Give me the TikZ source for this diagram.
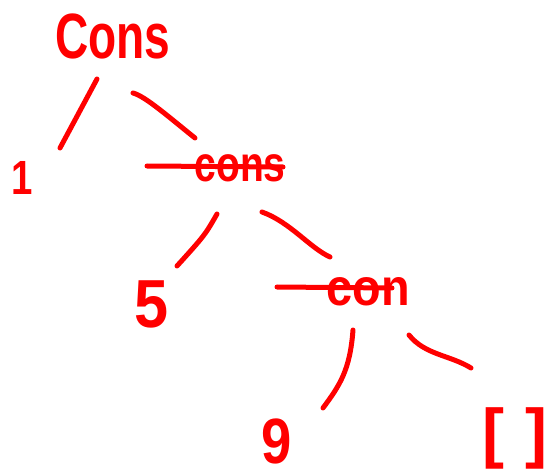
\documentclass[tikz,border=0pt]{standalone}
\usepackage{fontspec}
\setmainfont{Liberation Sans}
\definecolor{ink}{RGB}{255,0,0}
\begin{document}
\begin{tikzpicture}[x=1pt,y=-1pt,
  pen/.style={draw=ink,line width=5pt,line cap=round,line join=round},
  word/.style={text=ink,inner sep=0pt,outer sep=0pt,font=\bfseries}]
\useasboundingbox (0,0) rectangle (555,476);
% nodes
\node[word,xscale=0.72] (cons1) at (113,36) {\fontsize{64}{64}\selectfont Cons};
\node[word,xscale=0.8] (one) at (22,178) {\fontsize{48}{48}\selectfont 1};
\node[word,xscale=0.78] (cons2) at (240,168) {\fontsize{50}{50}\selectfont cons};
\node[word,xscale=0.9] (five) at (152,304) {\fontsize{68}{68}\selectfont 5};
\node[word,xscale=0.9] (cons3) at (368,292) {\fontsize{52}{52}\selectfont con};
\node[word,xscale=0.85] (nine) at (277,441) {\fontsize{64}{64}\selectfont 9};
\node[word] (nil) at (515,438) {\fontsize{66}{66}\selectfont [\kern22pt]};
% strike lines
\coordinate (s1a) at (147,166); \coordinate (s1b) at (283,167);
\coordinate (s2a) at (277,287); \coordinate (s2b) at (392,288);
\draw[pen] (s1a) -- (s1b);
\draw[pen] (s2a) -- (s2b);
% edges
\coordinate (e1a) at (97,79);   \coordinate (e1b) at (60,148);
\coordinate (e2a) at (133,93);  \coordinate (e2b) at (195,138);
\coordinate (e3a) at (217,214); \coordinate (e3b) at (177,266);
\coordinate (e4a) at (262,212); \coordinate (e4b) at (330,257);
\coordinate (e5a) at (353,330); \coordinate (e5b) at (323,408);
\coordinate (e6a) at (409,335); \coordinate (e6b) at (471,368);
\draw[pen] (e1a) -- (e1b);
\draw[pen] (e2a) .. controls (145,96) and (170,118) .. (e2b);
\draw[pen] (e3a) .. controls (205,235) .. (e3b);
\draw[pen] (e4a) .. controls (290,222) and (310,248) .. (e4b);
\draw[pen] (e5a) .. controls (350,370) and (340,385) .. (e5b);
\draw[pen] (e6a) .. controls (425,355) and (450,355) .. (e6b);
\end{tikzpicture}
\end{document}
